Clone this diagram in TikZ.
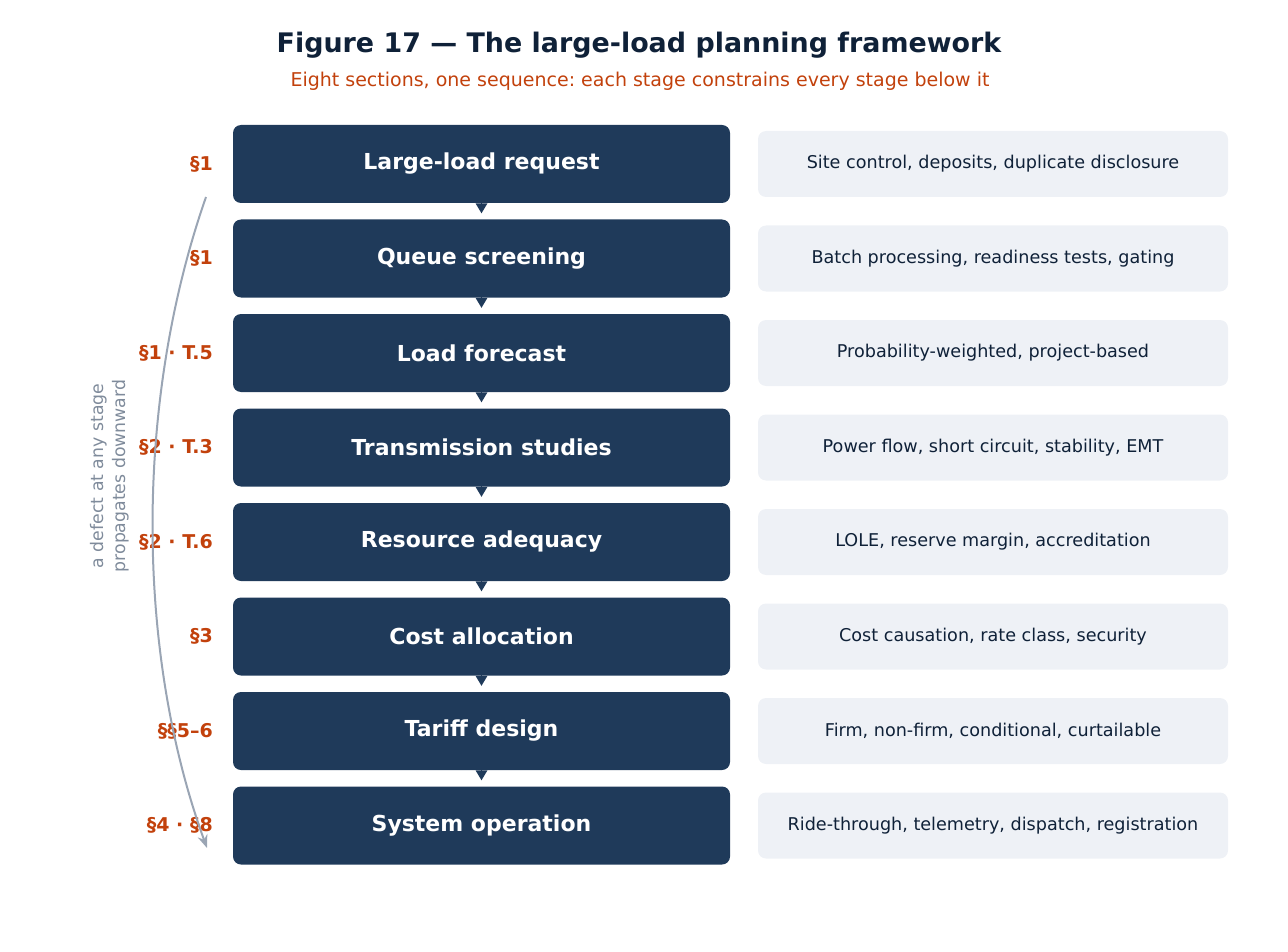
\documentclass[tikz,border=0pt]{standalone}
\usepackage{fontspec}
\setmainfont{DejaVu Sans}
\frenchspacing
\usetikzlibrary{arrows.meta}
\definecolor{navy}{HTML}{1F3A5A}
\definecolor{ink}{HTML}{0F2138}
\definecolor{rust}{HTML}{C2410C}
\definecolor{pale}{HTML}{EEF1F6}
\definecolor{slate}{HTML}{9AA5B4}
\definecolor{mist}{HTML}{7F8B9B}
\tikzset{
  stagebox/.style={fill=navy, rounded corners=8pt, minimum width=497pt, minimum height=78pt,
    text=white, font=\fontsize{22}{26}\selectfont\bfseries, inner sep=0pt},
  notebox/.style={fill=pale, rounded corners=8pt, minimum width=470pt, minimum height=66pt,
    text=ink, font=\fontsize{17.6}{20}\selectfont, inner sep=0pt},
  seclabel/.style={anchor=east, text=rust, font=\fontsize{19}{22}\selectfont\bfseries, inner sep=0pt},
  flowtip/.style={draw=navy, line width=0pt, -{Triangle[width=12pt,length=10pt]}, shorten >=6pt, navy},
}
\begin{document}
\begin{tikzpicture}[x=1pt, y=-1pt]
      \useasboundingbox (0, 0) rectangle (1288, 952);
      % Draw the headers
      \node[text=ink, font=\fontsize{26.9}{30}\selectfont\bfseries] (title) at (639, 45) {Figure 17 — The large-load planning framework};
      \node[text=rust, font=\fontsize{19}{22}\selectfont] (subtitle) at (640, 81) {Eight sections, one sequence: each stage constrains every stage below it};
      % Draw the stages
      \node[stagebox] (s1) at (481.5, 164) {Large-load request};
      \node[stagebox] (s2) at (481.5, 258.5) {Queue screening};
      \node[stagebox] (s3) at (481.5, 353) {Load forecast};
      \node[stagebox] (s4) at (481.5, 447.5) {Transmission studies};
      \node[stagebox] (s5) at (481.5, 542) {Resource adequacy};
      \node[stagebox] (s6) at (481.5, 636.5) {Cost allocation};
      \node[stagebox] (s7) at (481.5, 731) {Tariff design};
      \node[stagebox] (s8) at (481.5, 825.5) {System operation};
      % Draw the notes
      \node[notebox] (n1) at (993, 164) {Site control, deposits, duplicate disclosure};
      \node[notebox] (n2) at (993, 258.5) {Batch processing, readiness tests, gating};
      \node[notebox] (n3) at (993, 353) {Probability-weighted, project-based};
      \node[notebox] (n4) at (993, 447.5) {Power flow, short circuit, stability, EMT};
      \node[notebox] (n5) at (993, 542) {LOLE, reserve margin, accreditation};
      \node[notebox] (n6) at (993, 636.5) {Cost causation, rate class, security};
      \node[notebox] (n7) at (993, 731) {Firm, non-firm, conditional, curtailable};
      \node[notebox] (n8) at (993, 825.5) {Ride-through, telemetry, dispatch, registration};
      % Draw the section labels
      \node[seclabel] (l1) at (213, 164) {§1};
      \node[seclabel] (l2) at (213, 258.5) {§1};
      \node[seclabel] (l3) at (213, 353) {§1 · T.5};
      \node[seclabel] (l4) at (213, 447.5) {§2 · T.3};
      \node[seclabel] (l5) at (213, 542) {§2 · T.6};
      \node[seclabel] (l6) at (213, 636.5) {§3};
      \node[seclabel] (l7) at (213, 731) {§§5–6};
      \node[seclabel] (l8) at (213, 825.5) {§4 · §8};
      % Draw the flow
      \draw[flowtip] (s1) -- (s2);
      \draw[flowtip] (s2) -- (s3);
      \draw[flowtip] (s3) -- (s4);
      \draw[flowtip] (s4) -- (s5);
      \draw[flowtip] (s5) -- (s6);
      \draw[flowtip] (s6) -- (s7);
      \draw[flowtip] (s7) -- (s8);
      % Draw the propagation arc
      \coordinate (top) at (206, 197);
      \coordinate (bot) at (207, 848);
      \draw[slate, line width=2pt, -{Stealth[length=13pt, width=10pt]}] (top) .. controls (135, 400) and (135, 650) .. (bot);
      \node[rotate=90, text=mist, align=center, font=\fontsize{17.3}{22}\selectfont] (arc) at (110, 476) {a defect at any stage\\propagates downward};
\end{tikzpicture}
\end{document}
